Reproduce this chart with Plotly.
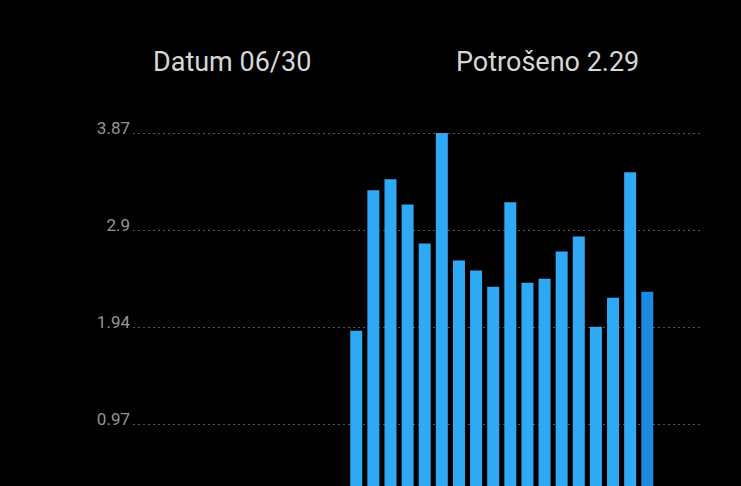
import plotly.graph_objects as go

# June consumption, days 13..30
days = list(range(13, 31))
values = [1.90, 3.30, 3.41, 3.16, 2.77, 3.87, 2.60, 2.50, 2.34, 3.18,
          2.38, 2.42, 2.69, 2.84, 1.94, 2.23, 3.48, 2.29]
max_val = 3.87
tick_vals = [max_val * k / 4 for k in range(1, 5)]
tick_text = ["0.97", "1.94", "2.9", "3.87"]
selected_day = 30

colors = ["#1b8ae0" if d == selected_day else "#2fa8f6" for d in days]
sel_val = values[days.index(selected_day)]

W, H = 741, 486
ML, MR, MT = 133, 41, 100

fig = go.Figure()
fig.add_trace(go.Bar(x=days, y=values, width=0.7, marker_color=colors,
                     marker_line_width=0, hoverinfo="skip"))

fig.update_layout(
    width=W, height=H,
    paper_bgcolor="black", plot_bgcolor="black",
    margin=dict(l=ML, r=MR, t=MT, b=0),
    showlegend=False,
    font=dict(family="Roboto", color="#9a9a9a"),
    xaxis=dict(range=[-0.04, 33.08], visible=False),
    yaxis=dict(range=[0.354, 4.20], tickvals=tick_vals, ticktext=tick_text,
               showgrid=True, gridcolor="#555555", griddash="2px,3px",
               gridwidth=1, zeroline=False, showline=False,
               tickfont=dict(size=17, color="#959595"),
               ticklabelshift=-5, ticklabelstandoff=2, ticks=""),
)

# header texts, positioned by pixel centre
for label, px_x in [("Datum 06/%02d" % selected_day, 232),
                    ("Potrošeno %.2f" % sel_val, 547)]:
    fig.add_annotation(text=label, showarrow=False,
                       xref="paper", yref="paper",
                       x=(px_x - ML) / (W - ML - MR), y=(H - 62) / (H - MT),
                       xanchor="center", yanchor="middle",
                       font=dict(size=27, color="#d6d6d6", family="Roboto"))

fig.write_html("out.html", config={"displayModeBar": False}, post_script=(
    "document.body.style.margin='0';"
    "document.body.style.background='black';"))
